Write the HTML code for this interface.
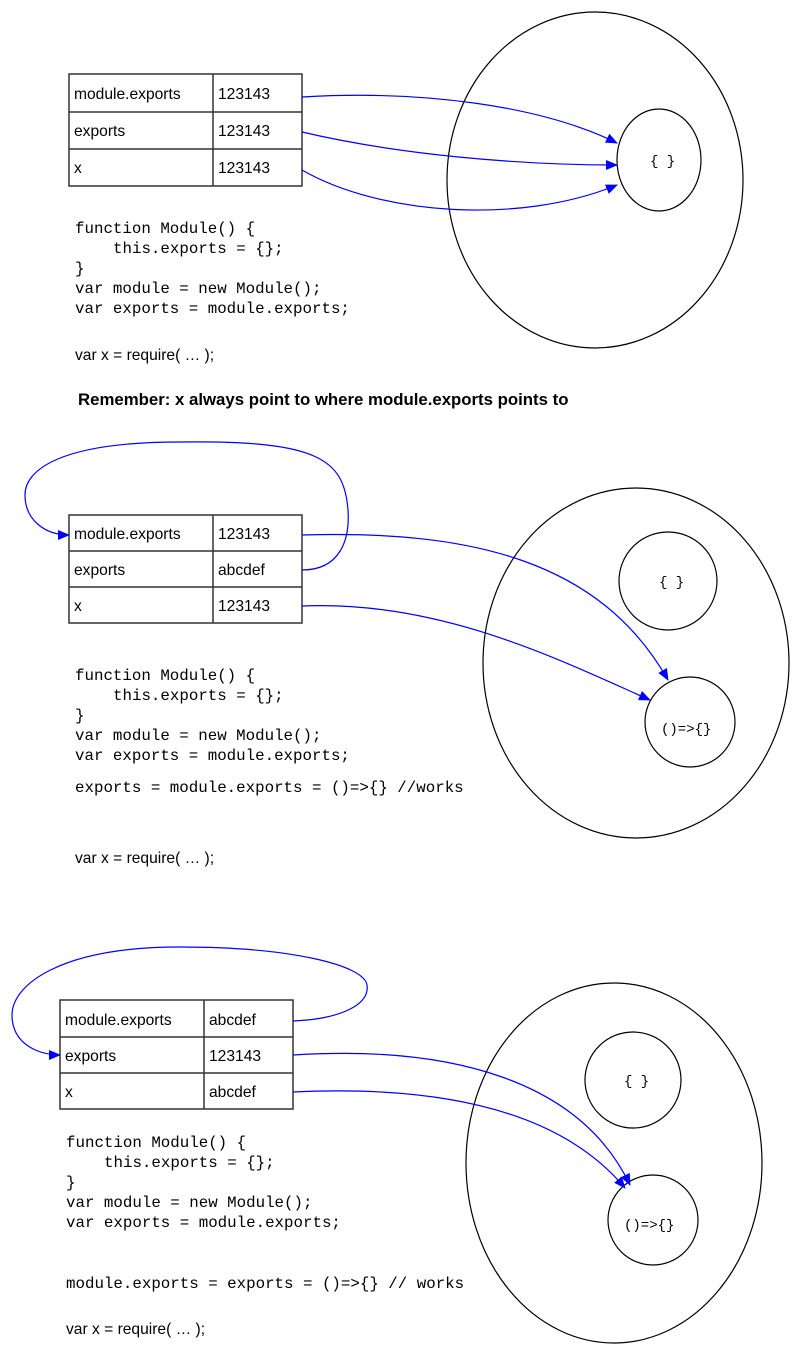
<!DOCTYPE html>
<html><head><meta charset="utf-8"><style>
html,body{margin:0;padding:0;background:#fff;}
svg{display:block;}
.s{font-family:"Liberation Sans",sans-serif;font-size:15.6px;fill:#000;}
.m{font-family:"Liberation Mono",monospace;font-size:15.8px;fill:#000;}
</style></head><body>
<svg width="800" height="1354" viewBox="0 0 800 1354" xmlns="http://www.w3.org/2000/svg">
<defs>
<marker id="a" markerWidth="12" markerHeight="10" refX="11" refY="5" orient="auto" markerUnits="userSpaceOnUse">
<path d="M0,0 L12,5 L0,10 Z" fill="#00f"/></marker>
</defs>
<g fill="none" stroke="#000" stroke-width="1.2">
<ellipse cx="595" cy="180" rx="148" ry="168"/>
<ellipse cx="659" cy="160" rx="42" ry="51"/>
<ellipse cx="636" cy="663" rx="153" ry="175"/>
<circle cx="668" cy="581" r="49"/>
<circle cx="690" cy="722" r="45"/>
<ellipse cx="614" cy="1163" rx="148" ry="180"/>
<circle cx="633" cy="1080" r="48"/>
<circle cx="653" cy="1220" r="45"/>
</g>
<g fill="none" stroke="#333" stroke-width="1.5">
<rect x="69" y="74" width="233" height="112"/>
<line x1="213" y1="74" x2="213" y2="186"/><line x1="69" y1="112" x2="302" y2="112"/><line x1="69" y1="149" x2="302" y2="149"/>
<rect x="69" y="515" width="233" height="108"/>
<line x1="213" y1="515" x2="213" y2="623"/><line x1="69" y1="551" x2="302" y2="551"/><line x1="69" y1="587" x2="302" y2="587"/>
<rect x="60" y="1000" width="233" height="109"/>
<line x1="204" y1="1000" x2="204" y2="1109"/><line x1="60" y1="1037" x2="293" y2="1037"/><line x1="60" y1="1073" x2="293" y2="1073"/>
</g>
<g fill="none" stroke="#00f" stroke-width="1.2" marker-end="url(#a)">
<path d="M302,97 C420,90 540,105 617,143"/>
<path d="M302,132 C400,155 520,165 617,165"/>
<path d="M302,170 C380,215 520,225 617,185"/>
<path d="M302,570 C340,570 350,540 348,510 C344,460 320,440 180,442 C60,442 25,470 25,495 C25,520 45,535 69,535"/>
<path d="M302,535 C470,530 600,560 668,680"/>
<path d="M302,606 C440,600 560,660 650,700"/>
<path d="M293,1021 C340,1019 370,1005 367,985 C364,965 290,947 180,947 C60,947 12,985 12,1015 C12,1045 40,1055 60,1055"/>
<path d="M293,1055 C450,1045 580,1080 630,1185"/>
<path d="M293,1092 C440,1085 560,1110 625,1188"/>
</g>
<g class="s">
<text x="74" y="99">module.exports</text><text x="218" y="99">123143</text>
<text x="74" y="136">exports</text><text x="218" y="136">123143</text>
<text x="74" y="173">x</text><text x="218" y="173">123143</text>
<text x="74" y="539">module.exports</text><text x="218" y="539">123143</text>
<text x="74" y="575">exports</text><text x="218" y="575">abcdef</text>
<text x="74" y="611">x</text><text x="218" y="611">123143</text>
<text x="65" y="1025">module.exports</text><text x="209" y="1025">abcdef</text>
<text x="65" y="1061">exports</text><text x="209" y="1061">123143</text>
<text x="65" y="1097">x</text><text x="209" y="1097">abcdef</text>
<text x="75" y="360">var x = require( … );</text>
<text x="75" y="863">var x = require( … );</text>
<text x="66" y="1334">var x = require( … );</text>
<text x="78" y="405" style="font-weight:bold;font-size:16.8px">Remember: x always point to where module.exports points to</text>
</g>
<g class="m">
<text x="75" y="233">function Module() {</text>
<text x="113" y="253">this.exports = {};</text>
<text x="75" y="273">}</text>
<text x="75" y="293">var module = new Module();</text>
<text x="75" y="313">var exports = module.exports;</text>
<text x="75" y="680">function Module() {</text>
<text x="113" y="700">this.exports = {};</text>
<text x="75" y="720">}</text>
<text x="75" y="740">var module = new Module();</text>
<text x="75" y="760">var exports = module.exports;</text>
<text x="75" y="792">exports = module.exports = ()=&gt;{} //works</text>
<text x="66" y="1147">function Module() {</text>
<text x="104" y="1167">this.exports = {};</text>
<text x="66" y="1187">}</text>
<text x="66" y="1207">var module = new Module();</text>
<text x="66" y="1227">var exports = module.exports;</text>
<text x="66" y="1288">module.exports = exports = ()=&gt;{} // works</text>
<text x="650" y="165" style="font-size:14px">{ }</text>
<text x="659" y="586" style="font-size:14px">{ }</text>
<text x="624" y="1085" style="font-size:14px">{ }</text>
<text x="661" y="733" style="font-size:14px">()=&gt;{}</text>
<text x="624" y="1229" style="font-size:14px">()=&gt;{}</text>
</g>
</svg>
</body></html>
